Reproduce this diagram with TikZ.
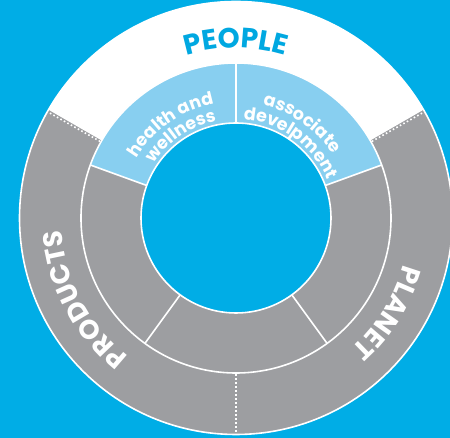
\documentclass[tikz,border=0pt]{standalone}
\usepackage{fontspec}
\setmainfont{Poppins}
\usetikzlibrary{decorations.text}
\definecolor{bgblue}{HTML}{00ADE6}
\definecolor{ringgray}{HTML}{9D9EA1}
\definecolor{lightblue}{HTML}{88CFF0}
\definecolor{pblue}{HTML}{00A8E1}
\tikzset{
  sep/.style={white, line width=1.6pt},
  dotsep/.style={white, line width=1.6pt, dash pattern=on 1.6pt off 2.4pt},
}
\begin{document}
\begin{tikzpicture}[x=1pt,y=1pt]
\fill[bgblue] (0,0) rectangle (450,438);
\useasboundingbox (0,0) rectangle (450,438);
\begin{scope}[shift={(236,220)}]
  % outer ring
  \fill[ringgray] (0,0) circle (216.5);
  \fill[white] (0,0) -- (30:216.5) arc (30:150:216.5) -- cycle;
  % middle ring
  \fill[ringgray] (0,0) circle (155);
  \fill[lightblue] (0,0) -- (20:155) arc (20:160:155) -- cycle;
  % inner disk
  \fill[bgblue] (0,0) circle (95);
  % circles
  \draw[sep] (0,0) circle (216.5);
  \draw[sep] (0,0) circle (155);
  \draw[sep] (0,0) circle (95);
  % dividers in middle ring
  \foreach \a in {20,90,160,234,306} \draw[sep] (\a:95) -- (\a:155);
  % dotted dividers in outer ring
  \draw[dotsep] (150.6:156) -- (150.6:216);
  \draw[dotsep] (29.4:156) -- (29.4:216);
  \draw[dotsep] (270:156) -- (270:216);
  % outer labels
  \path[decorate, decoration={text along path, text align=center, text color=pblue,
     text={|\bfseries\fontsize{28}{28}\selectfont|PEOPLE}}] (150:170) arc (150:30:170);
  \path[decorate, decoration={text along path, text align=center, text color=white,
     text={|\bfseries\fontsize{27}{27}\selectfont|PRODUCTS}}] (255:175) arc (255:161:175);
  \path[decorate, decoration={text along path, text align=center, text color=white,
     text={|\bfseries\fontsize{27}{27}\selectfont|PLANET}}] (15:174) arc (15:-79:174);
  % inner labels
  \path[decorate, decoration={text along path, text align=center, text color=white,
     text={|\bfseries\fontsize{17.5}{17.5}\selectfont|health and}}] (170:116) arc (170:80:116);
  \path[decorate, decoration={text along path, text align=center, text color=white,
     text={|\bfseries\fontsize{17.5}{17.5}\selectfont|wellness}}] (169:99) arc (169:79:99);
  \path[decorate, decoration={text along path, text align=center, text color=white,
     text={|\bfseries\fontsize{17.5}{17.5}\selectfont|associate}}] (100:116) arc (100:10:116);
  \path[decorate, decoration={text along path, text align=center, text color=white,
     text={|\bfseries\fontsize{17.5}{17.5}\selectfont|develpment}}] (99:99) arc (99:9:99);
\end{scope}
\end{tikzpicture}
\end{document}
